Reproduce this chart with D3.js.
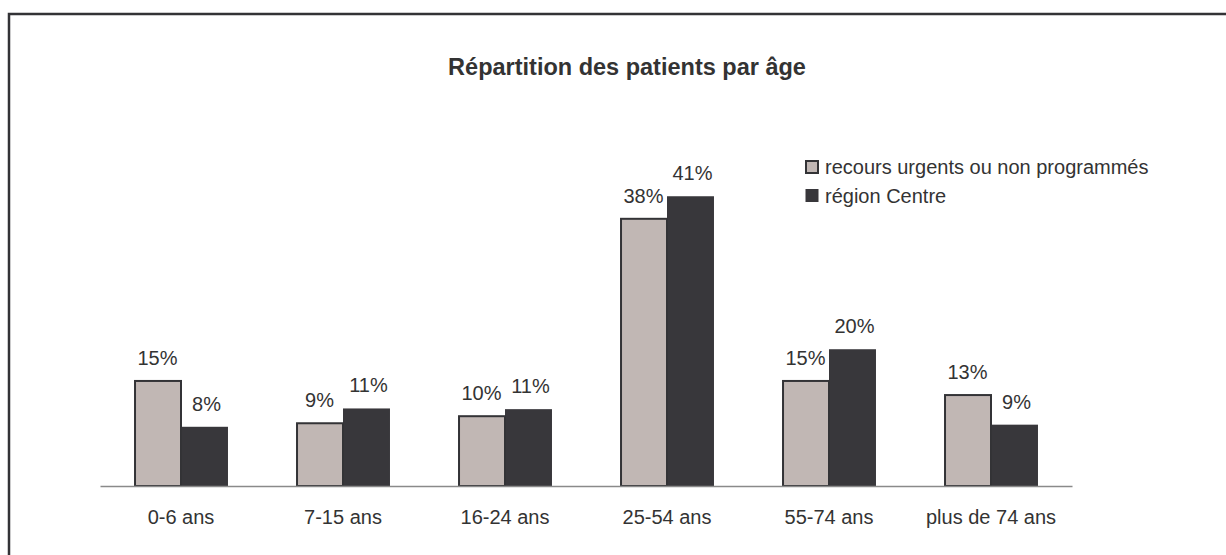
<!DOCTYPE html>
<html>
<head>
<meta charset="utf-8">
<script src="https://cdn.jsdelivr.net/npm/d3@7"></script>
<style>
  html, body { margin: 0; padding: 0; background: #fff; }
  svg { display: block; }
  text { font-family: "Liberation Sans", Arial, sans-serif; fill: #333; }
</style>
</head>
<body>
<svg id="chart" width="1226" height="555"></svg>
<script>
const categories = ["0-6 ans", "7-15 ans", "16-24 ans", "25-54 ans", "55-74 ans", "plus de 74 ans"];
const seriesNames = ["recours urgents ou non programmés", "région Centre"];
const recours = [14.9, 8.9, 9.9, 37.9, 14.9, 12.9];
const centre = [8.4, 11.0, 10.9, 41.1, 19.4, 8.7];
const recoursLabels = ["15%", "9%", "10%", "38%", "15%", "13%"];
const centreLabels = ["8%", "11%", "11%", "41%", "20%", "9%"];
const title = "Répartition des patients par âge";

const svg = d3.select("#chart");
const colors = ["#c1b7b4", "#38373b"];
const strokeCol = "#333336";

// outer frame
svg.append("rect").attr("x", 9).attr("y", 14).attr("width", 1240).attr("height", 580)
  .attr("fill", "none").attr("stroke", "#333336").attr("stroke-width", 2.5);

// title
svg.append("text").attr("x", 627).attr("y", 75).attr("text-anchor", "middle")
  .style("font-size", "23.5px").style("font-weight", "bold").text(title);

const x0 = d3.scaleBand().domain(categories).range([100, 1072]).paddingInner(0.42).paddingOuter(0.21);
const x1 = d3.scaleBand().domain([0, 1]).range([0, x0.bandwidth()]);
const y = d3.scaleLinear().domain([0, 45]).range([486, 486 - 7.05 * 45]);

const data = categories.map((c, i) => ({ c, vals: [recours[i], centre[i]], labs: [recoursLabels[i], centreLabels[i]] }));

const g = svg.append("g");
const groups = g.selectAll("g.grp").data(data).join("g").attr("class", "grp")
  .attr("transform", d => `translate(${x0(d.c)},0)`);

// dark bars first, then light bars on top (light has outline)
groups.append("rect")
  .attr("x", x1(1)).attr("width", x1.bandwidth())
  .attr("y", d => y(d.vals[1])).attr("height", d => y(0) - y(d.vals[1]))
  .attr("fill", colors[1]);
groups.append("rect")
  .attr("x", x1(0) + 1).attr("width", x1.bandwidth() - 1)
  .attr("y", d => y(d.vals[0])).attr("height", d => y(0) - y(d.vals[0]))
  .attr("fill", colors[0]).attr("stroke", strokeCol).attr("stroke-width", 2);

// value labels
[0, 1].forEach(k => {
  groups.append("text")
    .attr("x", x1(k) + x1.bandwidth() / 2 + (k === 1 ? 2 : 0))
    .attr("y", d => y(d.vals[k]) - 16)
    .attr("text-anchor", "middle").style("font-size", "20px")
    .text(d => d.labs[k]);
});

// axis
const axis = d3.axisBottom(x0).tickSize(0).tickPadding(0);
const ax = svg.append("g").attr("transform", `translate(0,${y(0)})`).call(axis);
ax.select(".domain").attr("stroke", "#8a8a8a").attr("stroke-width", 1.5);
ax.selectAll(".tick text").attr("dy", null).attr("y", 38)
  .style("font-size", "20px").style("font-family", "Liberation Sans, Arial, sans-serif").attr("fill", "#333");

// legend
const leg = svg.append("g");
seriesNames.forEach((n, i) => {
  const yy = 161 + i * 28.5;
  leg.append("rect").attr("x", 806).attr("y", yy).attr("width", 12).attr("height", 12)
    .attr("fill", colors[i]).attr("stroke", i === 0 ? strokeCol : colors[1]).attr("stroke-width", i === 0 ? 2 : 1);
  leg.append("text").attr("x", 825).attr("y", yy + 13).style("font-size", "20px").text(n);
});
</script>
</body>
</html>
